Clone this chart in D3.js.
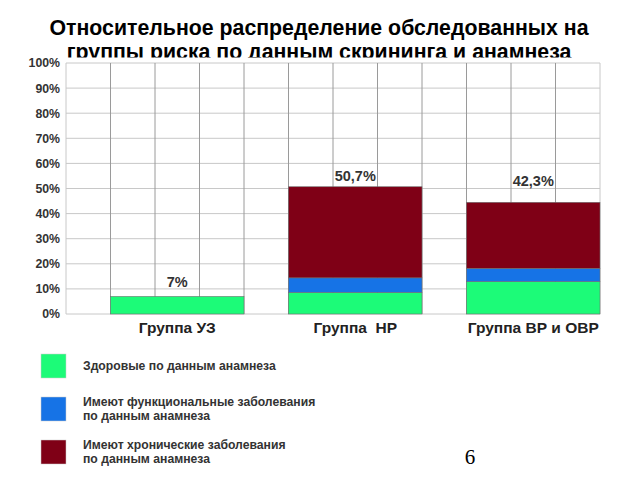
<!DOCTYPE html>
<html>
<head>
<meta charset="utf-8">
<script src="https://cdn.jsdelivr.net/npm/d3@7"></script>
<style>
  body { margin: 0; background: #fff; }
  svg { display: block; font-family: "Liberation Sans", Arial, sans-serif; }
</style>
</head>
<body>
<div class="chart"></div>
<script>
const categories = ['Группа УЗ', 'Группа  НР', 'Группа ВР и ОВР']
const seriesNames = ['Здоровые по данным анамнеза',
    'Имеют функциональные заболевания|по данным анамнеза',
    'Имеют хронические заболевания|по данным анамнеза']
const healthy = [7, 8.6, 12.9]
const functional = [0, 5.8, 5.3]
const chronic = [0, 36.3, 26.3]
const totalLabels = ['7%', '50,7%', '42,3%']
const labelLevel = [10.8, 53, 51]
const yTicks = [0, 10, 20, 30, 40, 50, 60, 70, 80, 90, 100]
const colors = ['#1cfb78', '#1673e6', '#7f0016']

const width = 640, height = 480
const plot = {left: 66, right: 600, top: 63, bottom: 314}

const svg = d3.select('.chart').append('svg')
    .attr('width', width)
    .attr('height', height)

// title (second line is partly hidden behind the plot, as in the slide)
const title = svg.append('text')
    .attr('text-anchor', 'middle')
    .attr('font-size', 21.3)
    .attr('font-weight', 'bold')
    .attr('fill', '#000')
title.append('tspan').attr('x', 319).attr('y', 35).text('Относительное распределение обследованных на')
title.append('tspan').attr('x', 319).attr('y', 58.5).text('группы риска по данным скрининга и анамнеза')

svg.append('rect')
    .attr('x', plot.left)
    .attr('y', plot.top - 5.5)
    .attr('width', plot.right - plot.left + 2)
    .attr('height', plot.bottom - plot.top + 5.5)
    .attr('fill', '#fff')

const x = d3.scaleBand()
    .domain(categories)
    .range([plot.left, plot.right])
    .paddingInner(0.25)
    .paddingOuter(0.125)
    .align(1)

const y = d3.scaleLinear()
    .domain([0, 100])
    .range([plot.bottom, plot.top])

// horizontal grid
svg.append('g')
    .selectAll('line')
    .data(yTicks)
    .join('line')
    .attr('x1', plot.left)
    .attr('x2', plot.right)
    .attr('y1', d => y(d))
    .attr('y2', d => y(d))
    .attr('stroke', '#c8c8c8')
    .attr('stroke-width', 1)

// vertical grid: 12 columns
const colW = x.step() / 4
const cols = d3.range(13)
svg.append('g')
    .selectAll('line')
    .data(cols)
    .join('line')
    .attr('x1', d => plot.left + d * colW)
    .attr('x2', d => plot.left + d * colW)
    .attr('y1', plot.top)
    .attr('y2', plot.bottom)
    .attr('stroke', d => (d === 0 || d === 12) ? '#c8c8c8' : '#9a9a9a')
    .attr('stroke-width', 1)

// y axis labels
const yAxis = d3.axisLeft(y)
    .tickValues(yTicks)
    .tickFormat(d => d + '%')
    .tickSize(0)
    .tickPadding(6)
const ya = svg.append('g')
    .attr('transform', `translate(${plot.left},0)`)
    .call(yAxis)
ya.select('.domain').remove()
ya.selectAll('text')
    .attr('font-family', '"Liberation Sans", Arial, sans-serif')
    .attr('font-size', 12.3)
    .attr('font-weight', 'bold')
    .attr('fill', '#333')

// stacked bars
const rows = categories.map((c, i) => ({cat: c, healthy: healthy[i], functional: functional[i], chronic: chronic[i]}))
const stack = d3.stack().keys(['healthy', 'functional', 'chronic'])(rows)

svg.append('g')
    .selectAll('g')
    .data(stack)
    .join('g')
    .attr('fill', (d, i) => colors[i])
    .selectAll('rect')
    .data(d => d.filter(p => p[1] > p[0]))
    .join('rect')
    .attr('x', d => x(d.data.cat))
    .attr('y', d => y(d[1]))
    .attr('width', x.bandwidth())
    .attr('height', d => y(d[0]) - y(d[1]))
    .attr('stroke', '#707070')
    .attr('stroke-width', 0.6)

// total labels
svg.append('g')
    .selectAll('text')
    .data(categories)
    .join('text')
    .attr('x', d => x(d) + x.bandwidth() / 2)
    .attr('y', (d, i) => y(labelLevel[i]))
    .attr('text-anchor', 'middle')
    .attr('font-size', 14.5)
    .attr('font-weight', 'bold')
    .attr('fill', '#333')
    .text((d, i) => totalLabels[i])

// category labels
const xAxis = d3.axisBottom(x).tickSize(0).tickPadding(8)
const xa = svg.append('g')
    .attr('transform', `translate(0,${plot.bottom})`)
    .call(xAxis)
xa.select('.domain').remove()
xa.selectAll('text')
    .attr('font-family', '"Liberation Sans", Arial, sans-serif')
    .attr('font-size', 15.5)
    .attr('font-weight', 'bold')
    .attr('fill', '#222')
    .style('white-space', 'pre')

// legend
const legend = svg.append('g')
    .selectAll('g')
    .data(seriesNames)
    .join('g')
    .attr('transform', (d, i) => `translate(41,${354 + i * 43})`)
legend.append('rect')
    .attr('width', 25)
    .attr('height', 24)
    .attr('fill', (d, i) => colors[i])
    .attr('stroke', '#ccc')
    .attr('stroke-width', 0.5)
const lt = legend.append('text')
    .attr('font-size', 12.2)
    .attr('font-weight', 'bold')
    .attr('fill', '#333')
lt.selectAll('tspan')
    .data(d => d.split('|').map((s, k, a) => ({s, k, n: a.length})))
    .join('tspan')
    .attr('x', 42)
    .attr('y', d => d.n === 1 ? 16 : 9 + d.k * 14)
    .text(d => d.s)

// slide number
svg.append('text')
    .attr('x', 470)
    .attr('y', 464)
    .attr('text-anchor', 'middle')
    .attr('font-family', '"Liberation Serif", "DejaVu Serif", serif')
    .attr('font-size', 21)
    .attr('fill', '#000')
    .text('6')
</script>
</body>
</html>
